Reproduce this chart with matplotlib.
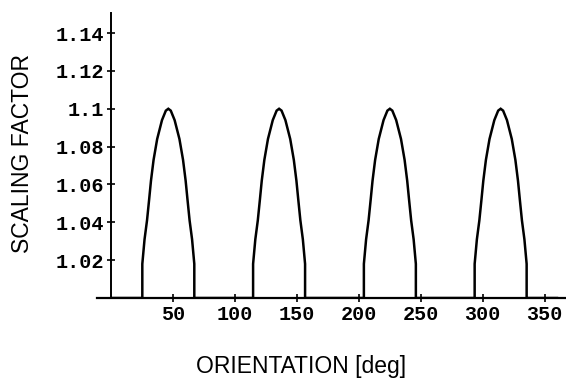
import numpy as np
from matplotlib import pyplot as plt

# orientation [deg] vs scaling factor
angle = [0, 25, 25, 26.8, 28.8, 30.5, 32, 34.1, 37, 40.9, 44, 46, 48, 51.1, 55, 57.9, 60, 61.5, 63.2, 65.2, 67, 67,
         114.5, 114.5, 116.3, 118.3, 120, 121.5, 123.6, 126.5, 130.4, 133.5, 135.5, 137.5, 140.6, 144.5, 147.4, 149.5, 151, 152.7, 154.7, 156.5, 156.5,
         204, 204, 205.8, 207.8, 209.5, 211, 213.1, 216, 219.9, 223, 225, 227, 230.1, 234, 236.9, 239, 240.5, 242.2, 244.2, 246, 246,
         293.5, 293.5, 295.3, 297.3, 299, 300.5, 302.6, 305.5, 309.4, 312.5, 314.5, 316.5, 319.6, 323.5, 326.4, 328.5, 330, 331.7, 333.7, 335.5, 335.5,
         360]
hump = [1.0, 1.018, 1.031, 1.041, 1.052, 1.062, 1.073, 1.084, 1.094, 1.099, 1.100,
        1.099, 1.094, 1.084, 1.073, 1.062, 1.052, 1.041, 1.031, 1.018, 1.0]
factor = [1.0] + hump + hump + hump + hump + [1.0]

xticks = [50, 100, 150, 200, 250, 300, 350]
yticks = [1.02, 1.04, 1.06, 1.08, 1.1, 1.12, 1.14]
ytick_labels = ["1.02", "1.04", "1.06", "1.08", "1.1", "1.12", "1.14"]

fig = plt.figure(figsize=(5.66, 3.78), dpi=100)
ax = fig.add_axes([0.1714, 0.2116, 0.8286, 0.754])

ax.plot(angle, factor, color='black', lw=1.8, solid_joinstyle='miter')

ax.set_xlim(-11.6, 367.3)
ax.set_ylim(1.0, 1.1506)

ax.spines['top'].set_visible(False)
ax.spines['right'].set_visible(False)
ax.spines['left'].set_position(('data', 0))
ax.spines['left'].set_linewidth(1.4)
ax.spines['bottom'].set_linewidth(1.6)

tickfont = {'family': 'Liberation Mono', 'weight': 'bold', 'size': 14.5}
ax.set_xticks(xticks)
ax.set_xticklabels([str(t) for t in xticks], fontdict=tickfont)
ax.set_yticks(yticks)
ax.set_yticklabels(ytick_labels, fontdict=tickfont)
ax.tick_params(axis='both', direction='inout', length=6, width=1.2, color='black')
ax.tick_params(axis='x', pad=2)
ax.tick_params(axis='y', pad=2)

fig.text(0.532, 0.0125, "ORIENTATION [deg]", ha='center', va='baseline',
         family='Liberation Sans', fontsize=16.5)
fig.text(0.039, 0.595, "SCALING FACTOR", ha='center', va='center', rotation=90,
         family='Liberation Sans', fontsize=16.5)

plt.savefig("out.png", dpi=100)
